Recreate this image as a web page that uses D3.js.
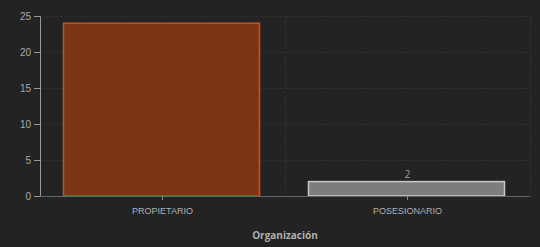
<!DOCTYPE html>
<html>
<head>
<meta charset="utf-8">
<script src="https://cdn.jsdelivr.net/npm/d3@7"></script>
<style>
  body { margin: 0; background: #232323; }
  svg { display: block; font-family: "Open Sans", "DejaVu Sans", sans-serif; }
</style>
</head>
<body>
<div id="root"></div>
<script>
// chart data
const categories = ['PROPIETARIO', 'POSESIONARIO']
const values = [24, 2]
const yTicks = [0, 5, 10, 15, 20, 25]
const showLabel = [false, true]

const w = 540, h = 247
const margin = {top: 16, right: 10, bottom: 51, left: 40}

const svg = d3.select('#root')
    .append('svg')
    .attr('width', w)
    .attr('height', h)

svg.append('rect').attr('width', w).attr('height', h).attr('fill', '#232323')

const x = d3.scaleBand()
    .domain(categories)
    .range([margin.left, w - margin.right])
    .paddingInner(0.2)
    .paddingOuter(0.1)

const y = d3.scaleLinear()
    .domain([0, 25])
    .range([h - margin.bottom, margin.top])

// grid
const grid = svg.append('g')
grid.selectAll('.hg')
    .data(yTicks.slice(1))
    .enter()
    .append('line')
    .attr('x1', margin.left)
    .attr('x2', w - margin.right)
    .attr('y1', d => y(d) + 0.5)
    .attr('y2', d => y(d) + 0.5)
    .attr('stroke', '#303030')
    .attr('stroke-dasharray', '3,2')

const step = x.step()
grid.selectAll('.vg')
    .data(categories)
    .enter()
    .append('line')
    .attr('x1', d => x(d) + x.bandwidth() + step * 0.1 + 0.5)
    .attr('x2', d => x(d) + x.bandwidth() + step * 0.1 + 0.5)
    .attr('y1', margin.top)
    .attr('y2', h - margin.bottom)
    .attr('stroke', '#303030')
    .attr('stroke-dasharray', '3,2')

// bars
const colors = ['#7c3514', '#7d7d7d']
const strokes = ['#c4531f', '#c9c9c9']

svg.selectAll('.bar')
    .data(values)
    .enter()
    .append('rect')
    .attr('x', (d, i) => x(categories[i]) - 1)
    .attr('y', d => y(d))
    .attr('width', x.bandwidth())
    .attr('height', d => y(0) - y(d))
    .attr('fill', (d, i) => colors[i])
    .attr('stroke', (d, i) => strokes[i])
    .attr('stroke-width', 1.5)

const labelData = values.map((v, i) => ({cat: categories[i], v: v, show: showLabel[i]}))
    .filter(d => d.show)

svg.selectAll('.lbl')
    .data(labelData)
    .enter()
    .append('text')
    .attr('x', d => x(d.cat) + x.bandwidth() / 2)
    .attr('y', d => y(d.v) - 4)
    .attr('text-anchor', 'middle')
    .attr('fill', '#a0a0a0')
    .attr('font-size', 10)
    .text(d => d.v)

// axes
const yAxis = svg.append('g')
    .attr('transform', `translate(${margin.left},0)`)
    .call(d3.axisLeft(y).tickValues(yTicks).tickSize(6).tickPadding(3))
yAxis.select('.domain').attr('stroke', '#9a9a9a')
yAxis.selectAll('line').attr('stroke', '#9a9a9a')
yAxis.selectAll('text').attr('fill', '#a8a8a8').attr('font-size', 10)

const xAxis = svg.append('g')
    .attr('transform', `translate(0,${h - margin.bottom})`)
    .call(d3.axisBottom(x).tickSize(4).tickPadding(8).tickSizeOuter(0))
xAxis.select('.domain').attr('stroke', '#666')
xAxis.selectAll('line').attr('stroke', '#888')
xAxis.selectAll('text').attr('fill', '#b0b0b0').attr('font-size', 9)

svg.append('text')
    .attr('x', 285)
    .attr('y', 239)
    .attr('text-anchor', 'middle')
    .attr('fill', '#b0b0b0')
    .attr('font-size', 10)
    .attr('font-weight', 'bold')
    .text('Organización')
</script>
</body>
</html>
